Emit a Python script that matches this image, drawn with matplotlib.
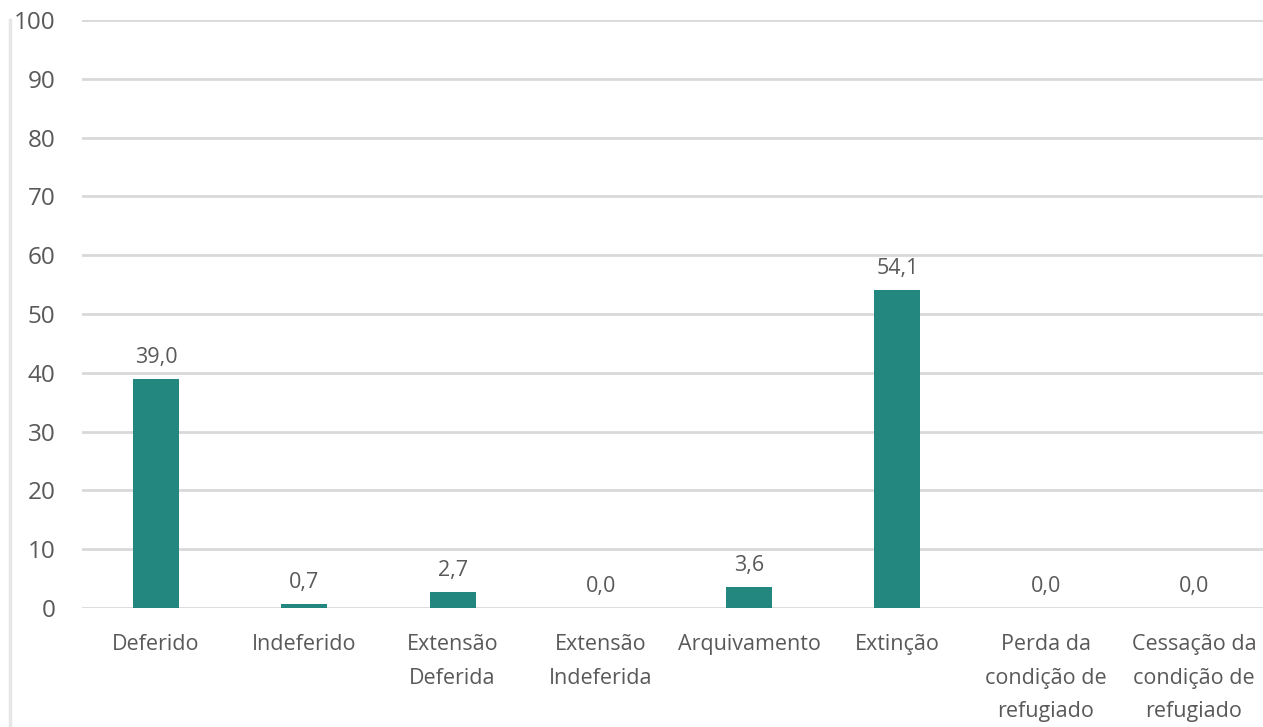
import matplotlib
matplotlib.use("Agg")
import matplotlib.pyplot as plt
from matplotlib.lines import Line2D

categories = ["Deferido", "Indeferido", "Extensão\nDeferida", "Extensão\nIndeferida",
              "Arquivamento", "Extinção", "Perda da\ncondição de\nrefugiado",
              "Cessação da\ncondição de\nrefugiado"]
values = [39.0, 0.7, 2.7, 0.0, 3.6, 54.1, 0.0, 0.0]
yticks = [0, 10, 20, 30, 40, 50, 60, 70, 80, 90, 100]

plt.rcParams['font.family'] = ['Open Sans', 'DejaVu Sans']
text_color = "#595959"
bar_color = "#23867f"
grid_color = "#d9d9d9"
fs = 15.5

fig = plt.figure(figsize=(12.63, 7.27), dpi=100)
ax = fig.add_axes([82/1263, 119/727, (1268-82)/1263, (608-20)/727])

x = list(range(len(categories)))
ax.bar(x, values, width=0.31, color=bar_color, zorder=3)
ax.set_xlim(-0.5, len(categories) - 0.5)
ax.set_ylim(0, 100)
ax.set_yticks(yticks)
ax.set_yticklabels([str(t) for t in yticks], fontsize=17.5, color=text_color)
ax.set_xticks(x)
ax.set_xticklabels(categories, fontsize=fs, color=text_color, linespacing=1.76)
ax.tick_params(axis='both', length=0)
ax.tick_params(axis='y', pad=19)
ax.tick_params(axis='x', pad=19)
for lab in ax.get_yticklabels():
    lab.set_horizontalalignment('right')
ax.grid(axis='y', color=grid_color, linewidth=2, zorder=0)
for s in ax.spines.values():
    s.set_visible(False)

for xi, v in zip(x, values):
    ax.annotate(f"{v:.1f}".replace(".", ","), (xi, v), xytext=(0, 8),
                textcoords='offset points', ha='center', va='bottom',
                fontsize=fs, color=text_color)

fig.add_artist(Line2D([10/1263, 10/1263], [0, 707/727], color="#e6e6e6",
                      linewidth=2.5, transform=fig.transFigure))

fig.savefig("out.png", dpi=100)
